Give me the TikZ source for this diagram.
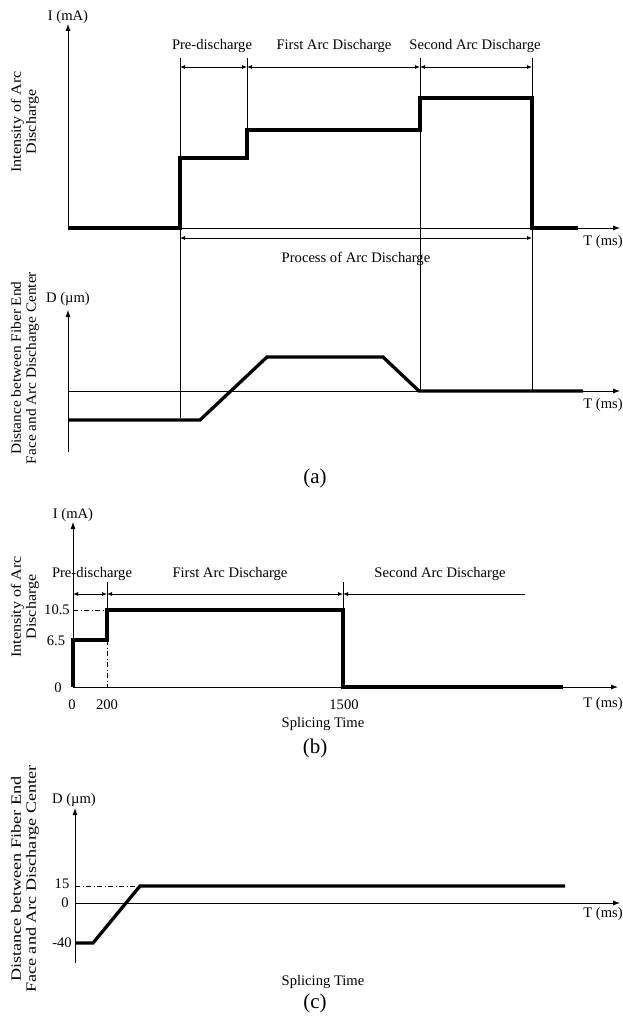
\documentclass[tikz,border=0pt]{standalone}
\usepackage{fontspec}
\setmainfont{Liberation Serif}
\newfontfamily\labA[FakeStretch=1.13]{Liberation Serif}
\newfontfamily\labB[FakeStretch=1.08]{Liberation Serif}
\newfontfamily\labC[FakeStretch=1.28]{Liberation Serif}
\usetikzlibrary{arrows.meta}
\begin{document}
\begin{tikzpicture}[x=1pt,y=-1pt,
  thinln/.style={line width=0.8pt},
  sig/.style={line width=3.3pt,line join=miter},
  axisln/.style={line width=0.8pt,-{Latex[length=7pt,width=5pt]}},
  dimln/.style={line width=0.8pt,{Latex[length=5pt,width=4pt]}-{Latex[length=5pt,width=4pt]}},
  dimleft/.style={line width=0.8pt,{Latex[length=5pt,width=4pt]}-},
  dashdotln/.style={line width=0.8pt,dash pattern=on 5pt off 2.5pt on 1pt off 2.5pt},
  txt/.style={font=\fontsize{14.6}{15}\selectfont,inner sep=0pt},
  btxt/.style={txt,anchor=base},
  captxt/.style={font=\fontsize{21}{22}\selectfont,inner sep=0pt,anchor=base},
  ylabA/.style={inner sep=0pt,rotate=90,align=center,font=\labA\fontsize{14.2}{15}\selectfont},
  ylabB/.style={inner sep=0pt,rotate=90,align=center,font=\labB\fontsize{14.2}{15}\selectfont},
  ylabC/.style={inner sep=0pt,rotate=90,align=center,font=\labC\fontsize{14.2}{15}\selectfont}]
\useasboundingbox[fill=white] (0,0) rectangle (622,1019);

% ================= (a) upper plot =================
\coordinate (aO) at (68,228);
\coordinate (aYt) at (68,24);
\coordinate (aXt) at (620,228);
\draw[axisln] (aO) -- (aYt);
\draw[axisln] (aO) -- (aXt);
\draw[sig] (aO) -- (180,228) -- (180,158) -- (247,158) -- (247,130) -- (420,130)
  -- (420,98) -- (532,98) -- (532,228) -- (578,228);
% guide verticals
\coordinate (g1t) at (180,58); \coordinate (g1b) at (180,418);
\coordinate (g2t) at (247,58); \coordinate (g2b) at (247,130);
\coordinate (g3t) at (420,58); \coordinate (g3b) at (420,391);
\coordinate (g4t) at (532,58); \coordinate (g4b) at (532,391);
\draw[thinln] (g1t) -- (g1b);
\draw[thinln] (g2t) -- (g2b);
\draw[thinln] (g3t) -- (g3b);
\draw[thinln] (g4t) -- (g4b);
\coordinate (d1) at (180,67); \coordinate (d2) at (247,67);
\coordinate (d3) at (420,67); \coordinate (d4) at (532,67);
\draw[dimln] (d1) -- (d2);
\draw[dimln] (d2) -- (d3);
\draw[dimln] (d3) -- (d4);
\coordinate (p1) at (180,238); \coordinate (p2) at (532,238);
\draw[dimln] (p1) -- (p2);
\node[btxt] (aI) at (68,21) {I (mA)};
\node[btxt] (aPre) at (212,50) {Pre-discharge};
\node[btxt] (aFirst) at (334,50) {First Arc Discharge};
\node[btxt] (aSecond) at (475,50) {Second Arc Discharge};
\node[btxt] (aT1) at (603,245) {T (ms)};
\node[btxt] (aProc) at (356,262) {Process of Arc Discharge};
\node[ylabA] (aYl) at (25,122) {Intensity of Arc\\Discharge};

% ================= (a) lower plot =================
\coordinate (bO) at (68,452);
\coordinate (bYt) at (68,310);
\coordinate (bX0) at (68,391);
\coordinate (bXt) at (620,391);
\draw[axisln] (bO) -- (bYt);
\draw[axisln] (bX0) -- (bXt);
\draw[sig] (68,420) -- (200,420) -- (267,357) -- (383,357) -- (419,391) -- (583,391);
\node[btxt] (aD) at (68,302) {D (\textmu m)};
\node[btxt] (aT2) at (603,408) {T (ms)};
\node[ylabB] (aDl) at (25,368) {Distance between Fiber End\\Face and Arc Discharge Center};
\node[captxt] (capA) at (315,483) {(a)};

% ================= (b) =================
\coordinate (cO) at (73,687);
\coordinate (cYt) at (73,522);
\coordinate (cXt) at (618,687);
\draw[axisln] (cO) -- (cYt);
\draw[axisln] (cO) -- (cXt);
\draw[dashdotln] (73,610) -- (107,610);
\draw[dashdotln] (107,640) -- (107,687);
\draw[sig] (cO) -- (73,640) -- (107,640) -- (107,610) -- (343,610) -- (343,687) -- (563,687);
\coordinate (t1t) at (107,582); \coordinate (t1b) at (107,610);
\coordinate (t2t) at (343,582); \coordinate (t2b) at (343,610);
\draw[thinln] (t1t) -- (t1b);
\draw[thinln] (t2t) -- (t2b);
\coordinate (e0) at (73,594); \coordinate (e1) at (107,594);
\coordinate (e2) at (343,594); \coordinate (e3) at (525,594);
\draw[dimln] (e0) -- (e1);
\draw[dimln] (e1) -- (e2);
\draw[dimleft] (e2) -- (e3);
\node[btxt] (bI) at (73,518) {I (mA)};
\node[btxt] (bPre) at (92,577) {Pre-discharge};
\node[btxt] (bFirst) at (230,577) {First Arc Discharge};
\node[btxt] (bSecond) at (440,577) {Second Arc Discharge};
\node[txt] (v105) at (57,610) {10.5};
\node[txt] (v65) at (56,641) {6.5};
\node[txt] (v0) at (58,688) {0};
\node[btxt] (h0) at (72,709) {0};
\node[btxt] (h200) at (107,709) {200};
\node[btxt] (h1500) at (344,709) {1500};
\node[btxt] (bT) at (603,707) {T (ms)};
\node[btxt] (bSpl) at (323,727) {Splicing Time};
\node[captxt] (capB) at (315,753) {(b)};
\node[ylabA] (bYl) at (25,607) {Intensity of Arc\\Discharge};

% ================= (c) =================
\coordinate (dO) at (75,963);
\coordinate (dYt) at (75,808);
\coordinate (dX0) at (75,903);
\coordinate (dXt) at (620,903);
\draw[axisln] (dO) -- (dYt);
\draw[axisln] (dX0) -- (dXt);
\draw[dashdotln] (75,886) -- (140,886);
\draw[sig] (75,943) -- (93,943) -- (140,886) -- (565,886);
\node[btxt] (cD) at (74,803) {D (\textmu m)};
\node[txt] (w15) at (62,884) {15};
\node[txt] (w0) at (65,903) {0};
\node[txt] (wm40) at (62,943) {-40};
\node[btxt] (cT) at (603,917) {T (ms)};
\node[btxt] (cSpl) at (323,985) {Splicing Time};
\node[captxt] (capC) at (315,1008) {(c)};
\node[ylabC] (cDl) at (25,879) {Distance between Fiber End\\Face and Arc Discharge Center};
\end{tikzpicture}
\end{document}
